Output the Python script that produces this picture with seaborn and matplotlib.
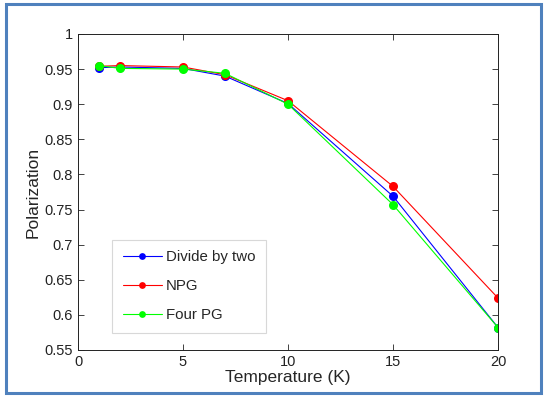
import matplotlib
matplotlib.use("Agg")
import matplotlib.pyplot as plt
import seaborn as sns
import pandas as pd
from matplotlib.patches import Rectangle

temperature = [1, 2, 5, 7, 10, 15, 20]
divide_by_two = [0.952, 0.953, 0.951, 0.940, 0.901, 0.769, 0.582]
npg = [0.954, 0.955, 0.953, 0.942, 0.905, 0.783, 0.624]
four_pg = [0.955, 0.951, 0.950, 0.944, 0.900, 0.757, 0.582]
series_names = ["Divide by two", "NPG", "Four PG"]
colors = ["#0000ff", "#ff0000", "#00ff00"]

frames = []
for name, vals in zip(series_names, [divide_by_two, npg, four_pg]):
    frames.append(pd.DataFrame({"Temperature": temperature, "Polarization": vals, "Series": name}))
df = pd.concat(frames, ignore_index=True)

sns.set_style("ticks")
plt.rcParams["font.family"] = ["Liberation Sans", "DejaVu Sans"]

fig = plt.figure(figsize=(5.44, 3.96), dpi=100)
ax = fig.add_axes([0.1434, 0.1162, 0.772, 0.798])

sns.lineplot(data=df, x="Temperature", y="Polarization", hue="Series",
             hue_order=series_names, palette=colors, marker="o",
             markersize=6.5, markeredgewidth=0, linewidth=0.8, ax=ax, sort=False)

ax.set_xlim(0, 20)
ax.set_ylim(0.55, 1.0)
ax.set_xticks([0, 5, 10, 15, 20])
ax.set_yticks([0.55, 0.6, 0.65, 0.7, 0.75, 0.8, 0.85, 0.9, 0.95, 1.0])
ax.set_yticklabels(["0.55", "0.6", "0.65", "0.7", "0.75", "0.8", "0.85", "0.9", "0.95", "1"])
ax.tick_params(direction="in", top=True, right=True, labelsize=10.5, length=4, width=0.6, colors="#222222")
for s in ax.spines.values():
    s.set_visible(True)
    s.set_linewidth(0.7)
    s.set_color("#222222")
ax.set_xlabel("Temperature (K)", fontsize=12.5, labelpad=1)
ax.set_ylabel("Polarization", fontsize=12.5, labelpad=3)

leg = ax.legend(loc="lower left", bbox_to_anchor=(0.081, 0.054), borderaxespad=0,
                fontsize=10.8, handlelength=2.6, labelspacing=1.0, fancybox=False,
                framealpha=1, edgecolor="#d8d8d8", borderpad=0.7, handletextpad=0.3,
                markerscale=0.75)
leg.get_frame().set_linewidth(0.8)

fig.patches.append(Rectangle((6 / 544, 3 / 396), 535 / 544, 389 / 396, transform=fig.transFigure,
                             fill=False, edgecolor="#4f81bd", linewidth=2.2))

fig.savefig("out.png", dpi=100)
